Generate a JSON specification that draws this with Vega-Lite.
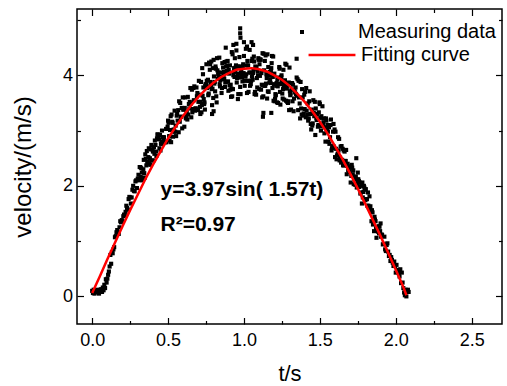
{
"$schema": "https://vega.github.io/schema/vega-lite/v6.json",
"autosize": {"type": "none"},
"padding": {"left": 77, "top": 9, "right": 5, "bottom": 62},
"width": 425,
"height": 315,
"background": "white",
"config": {
  "view": {"stroke": "black", "strokeWidth": 1.5},
  "font": "Liberation Sans",
  "axis": {"domain": false, "grid": false, "labelFont": "Liberation Sans", "labelFontSize": 18, "labelColor": "black", "titleFont": "Liberation Sans", "titleFontSize": 24, "titleFontWeight": "normal", "titleColor": "black", "tickColor": "black", "tickWidth": 1.2},
  "legend": {"labelFont": "Liberation Sans", "labelFontSize": 20, "labelColor": "black"}
},
"datasets": {
"meas": [
{"t":0,"v":0.1},{"t":0.005,"v":0.06},{"t":0.01,"v":0.12},{"t":0.015,"v":0.05},{"t":0.02,"v":0.09},{"t":0.025,"v":0.11},{"t":0.03,"v":0.07},{"t":0.035,"v":0.12},{"t":0.04,"v":0.1},{"t":0.045,"v":0.05},{"t":0.05,"v":0.08},{"t":0.055,"v":0.12},{"t":0.06,"v":0.13},{"t":0.065,"v":0.08},{"t":0.07,"v":0.16},{"t":0.075,"v":0.11},{"t":0.08,"v":0.21},{"t":0.085,"v":0.15},{"t":0.09,"v":0.31},{"t":0.095,"v":0.25},
{"t":0.1,"v":0.32},{"t":0.105,"v":0.39},{"t":0.11,"v":0.45},{"t":0.115,"v":0.54},{"t":0.12,"v":0.75},{"t":0.125,"v":0.59},{"t":0.13,"v":0.8},{"t":0.135,"v":0.78},{"t":0.14,"v":0.85},{"t":0.145,"v":0.89},{"t":0.15,"v":1.07},{"t":0.155,"v":1.09},{"t":0.16,"v":1.16},{"t":0.165,"v":1.2},{"t":0.17,"v":1.16},{"t":0.175,"v":1.13},{"t":0.18,"v":1.25},{"t":0.185,"v":1.36},{"t":0.19,"v":1.34},{"t":0.195,"v":1.38},{"t":0.2,"v":1.36},{"t":0.205,"v":1.45},{"t":0.21,"v":1.48},{"t":0.215,"v":1.46},{"t":0.22,"v":1.53},{"t":0.225,"v":1.64},{"t":0.23,"v":1.6},{"t":0.235,"v":1.57},{"t":0.24,"v":1.76},{"t":0.245,"v":1.8},{"t":0.25,"v":1.79},{"t":0.255,"v":1.68},{"t":0.26,"v":1.79},{"t":0.265,"v":1.93},{"t":0.27,"v":2.0},{"t":0.275,"v":1.91},{"t":0.28,"v":1.9},{"t":0.285,"v":2.08},{"t":0.29,"v":2.1},{"t":0.295,"v":1.96},{"t":0.3,"v":2.13},{"t":0.305,"v":2.2},
{"t":0.31,"v":2.1},{"t":0.313,"v":2.34},{"t":0.317,"v":2.34},{"t":0.32,"v":2.16},{"t":0.323,"v":2.32},{"t":0.327,"v":2.24},{"t":0.33,"v":2.14},{"t":0.333,"v":2.1},{"t":0.337,"v":2.3},{"t":0.34,"v":2.47},{"t":0.343,"v":2.23},{"t":0.347,"v":2.15},{"t":0.35,"v":2.57},{"t":0.353,"v":2.49},{"t":0.357,"v":2.37},{"t":0.36,"v":2.63},{"t":0.363,"v":2.43},{"t":0.367,"v":2.43},{"t":0.37,"v":2.52},{"t":0.373,"v":2.68},{"t":0.377,"v":2.4},{"t":0.38,"v":2.5},{"t":0.383,"v":2.38},{"t":0.387,"v":2.66},{"t":0.39,"v":2.74},{"t":0.393,"v":2.46},{"t":0.397,"v":2.66},{"t":0.4,"v":2.62},{"t":0.403,"v":2.46},{"t":0.407,"v":2.7},{"t":0.41,"v":2.58},{"t":0.413,"v":2.82},{"t":0.417,"v":2.74},{"t":0.42,"v":2.62},{"t":0.423,"v":2.54},{"t":0.427,"v":2.86},{"t":0.43,"v":2.93},{"t":0.433,"v":2.93},{"t":0.437,"v":2.89},{"t":0.44,"v":2.84},{"t":0.443,"v":2.68},{"t":0.447,"v":2.92},{"t":0.45,"v":2.64},{"t":0.453,"v":2.76},{"t":0.457,"v":2.8},{"t":0.46,"v":3.0},{"t":0.463,"v":2.76},{"t":0.467,"v":2.88},{"t":0.47,"v":2.84},{"t":0.473,"v":2.88},{"t":0.477,"v":2.8},{"t":0.48,"v":2.79},{"t":0.483,"v":2.79},{"t":0.487,"v":3.03},{"t":0.49,"v":2.79},{"t":0.493,"v":3.03},{"t":0.497,"v":3.07},{"t":0.5,"v":3.18},{"t":0.503,"v":3.14},{"t":0.507,"v":2.9},
{"t":0.51,"v":2.82},{"t":0.513,"v":3.01},{"t":0.517,"v":3.26},{"t":0.52,"v":2.79},{"t":0.523,"v":3.29},{"t":0.527,"v":3.16},{"t":0.53,"v":3.14},{"t":0.533,"v":2.89},{"t":0.537,"v":3.02},{"t":0.54,"v":2.98},{"t":0.543,"v":3.36},{"t":0.547,"v":2.98},{"t":0.55,"v":3.09},{"t":0.553,"v":2.9},{"t":0.557,"v":3.27},{"t":0.56,"v":3.3},{"t":0.563,"v":3.18},{"t":0.567,"v":3.37},{"t":0.57,"v":2.97},{"t":0.573,"v":3.53},{"t":0.577,"v":3.16},{"t":0.58,"v":3.5},{"t":0.583,"v":3.25},{"t":0.587,"v":3.25},{"t":0.59,"v":3.41},{"t":0.593,"v":3.04},{"t":0.597,"v":3.6},{"t":0.6,"v":3.38},{"t":0.603,"v":3.38},{"t":0.607,"v":3.07},{"t":0.61,"v":3.41},{"t":0.613,"v":3.6},{"t":0.617,"v":3.22},{"t":0.62,"v":3.26},{"t":0.623,"v":3.33},{"t":0.627,"v":3.2},{"t":0.63,"v":3.61},{"t":0.633,"v":3.29},{"t":0.637,"v":3.48},{"t":0.64,"v":3.4},{"t":0.643,"v":3.52},{"t":0.647,"v":3.77},{"t":0.65,"v":3.49},{"t":0.653,"v":3.24},{"t":0.657,"v":3.74},{"t":0.66,"v":3.33},{"t":0.663,"v":3.39},{"t":0.667,"v":3.77},{"t":0.67,"v":3.55},{"t":0.673,"v":3.8},{"t":0.677,"v":3.36},{"t":0.68,"v":3.4},{"t":0.683,"v":3.4},{"t":0.687,"v":3.78},{"t":0.69,"v":3.62},{"t":0.693,"v":3.68},{"t":0.697,"v":3.37},{"t":0.7,"v":3.52},{"t":0.703,"v":3.9},{"t":0.707,"v":3.65},
{"t":0.71,"v":3.43},{"t":0.7125,"v":3.3},{"t":0.715,"v":3.52},{"t":0.7175,"v":3.88},{"t":0.72,"v":3.33},{"t":0.7225,"v":3.46},{"t":0.725,"v":4.13},{"t":0.7275,"v":3.63},{"t":0.73,"v":4.02},{"t":0.7325,"v":3.78},{"t":0.735,"v":3.57},{"t":0.7375,"v":3.48},{"t":0.74,"v":3.51},{"t":0.7425,"v":3.38},{"t":0.745,"v":3.81},{"t":0.7475,"v":3.84},{"t":0.75,"v":3.83},{"t":0.7525,"v":4.2},{"t":0.755,"v":3.9},{"t":0.7575,"v":3.77},{"t":0.76,"v":3.79},{"t":0.7625,"v":3.92},{"t":0.765,"v":3.64},{"t":0.7675,"v":3.67},{"t":0.77,"v":4.23},{"t":0.7725,"v":3.8},{"t":0.775,"v":4.1},{"t":0.7775,"v":4.2},{"t":0.78,"v":3.88},{"t":0.7825,"v":3.82},{"t":0.785,"v":4.25},{"t":0.7875,"v":3.75},{"t":0.79,"v":3.46},{"t":0.7925,"v":3.76},{"t":0.795,"v":4.13},{"t":0.7975,"v":3.59},{"t":0.8,"v":4.28},{"t":0.8025,"v":3.98},{"t":0.805,"v":3.85},{"t":0.8075,"v":3.88},{"t":0.81,"v":3.71},{"t":0.8125,"v":4.16},{"t":0.815,"v":4.12},{"t":0.8175,"v":3.62},{"t":0.82,"v":3.51},{"t":0.8225,"v":4.31},{"t":0.825,"v":4.09},{"t":0.8275,"v":3.94},{"t":0.83,"v":4.02},{"t":0.8325,"v":4.05},{"t":0.835,"v":3.95},{"t":0.8375,"v":4.32},{"t":0.84,"v":3.84},{"t":0.8425,"v":3.8},{"t":0.845,"v":3.91},{"t":0.8475,"v":3.97},{"t":0.85,"v":4.05},{"t":0.8525,"v":3.68},{"t":0.855,"v":3.77},{"t":0.8575,"v":4.22},{"t":0.86,"v":3.93},{"t":0.8625,"v":4.14},{"t":0.865,"v":3.99},{"t":0.8675,"v":4.06},{"t":0.87,"v":3.94},{"t":0.8725,"v":4.24},{"t":0.875,"v":3.79},{"t":0.8775,"v":3.87},{"t":0.88,"v":3.88},{"t":0.8825,"v":4.16},{"t":0.885,"v":4.25},{"t":0.8875,"v":4.08},{"t":0.89,"v":4.17},{"t":0.8925,"v":4.26},{"t":0.895,"v":3.89},{"t":0.8975,"v":3.72},{"t":0.9,"v":4.1},{"t":0.9025,"v":4.03},{"t":0.905,"v":3.82},{"t":0.9075,"v":4.18},{"t":0.91,"v":3.74},{"t":0.9125,"v":3.83},{"t":0.915,"v":3.61},{"t":0.9175,"v":3.76},{"t":0.92,"v":4.42},{"t":0.9225,"v":3.62},{"t":0.925,"v":4.38},{"t":0.9275,"v":3.75},{"t":0.93,"v":4.0},{"t":0.9325,"v":4.06},{"t":0.935,"v":4.13},{"t":0.9375,"v":3.97},{"t":0.94,"v":4.31},{"t":0.9425,"v":4.07},{"t":0.945,"v":4.14},{"t":0.9475,"v":4.18},{"t":0.95,"v":4.45},{"t":0.9525,"v":3.87},{"t":0.955,"v":3.95},{"t":0.9575,"v":4.02},{"t":0.96,"v":4.16},{"t":0.9625,"v":3.66},{"t":0.965,"v":3.96},{"t":0.9675,"v":4.03},{"t":0.97,"v":4.33},{"t":0.9725,"v":4.16},{"t":0.975,"v":3.79},{"t":0.9775,"v":3.66},{"t":0.98,"v":4.04},{"t":0.9825,"v":4.1},{"t":0.985,"v":4.01},{"t":0.9875,"v":3.97},{"t":0.99,"v":3.89},{"t":0.9925,"v":4.17},{"t":0.995,"v":4.2},{"t":0.9975,"v":4.04},{"t":1.0,"v":4.35},{"t":1.0025,"v":3.9},{"t":1.005,"v":3.81},{"t":1.0075,"v":3.98},{"t":1.01,"v":3.98},{"t":1.0125,"v":4.48},{"t":1.015,"v":4.02},{"t":1.0175,"v":4.18},{"t":1.02,"v":3.68},{"t":1.0225,"v":4.26},{"t":1.025,"v":3.9},{"t":1.0275,"v":4.18},{"t":1.03,"v":3.7},{"t":1.0325,"v":3.9},{"t":1.035,"v":4.05},{"t":1.0375,"v":4.46},{"t":1.04,"v":3.81},{"t":1.0425,"v":4.05},{"t":1.045,"v":3.84},{"t":1.0475,"v":3.9},{"t":1.05,"v":4.26},{"t":1.0525,"v":3.98},{"t":1.055,"v":4.3},{"t":1.0575,"v":3.92},{"t":1.06,"v":4.04},{"t":1.0625,"v":4.1},{"t":1.065,"v":4.34},{"t":1.0675,"v":4.25},{"t":1.07,"v":3.66},{"t":1.0725,"v":3.7},{"t":1.075,"v":4.16},{"t":1.0775,"v":4.12},{"t":1.08,"v":3.65},{"t":1.0825,"v":4.15},{"t":1.085,"v":3.95},{"t":1.0875,"v":3.78},{"t":1.09,"v":4.07},{"t":1.0925,"v":4.0},{"t":1.095,"v":4.31},{"t":1.0975,"v":4.28},{"t":1.1,"v":3.75},{"t":1.1025,"v":4.2},{"t":1.105,"v":3.99},{"t":1.1075,"v":4.29},{"t":1.11,"v":4.28},{"t":1.1125,"v":3.74},{"t":1.115,"v":4.04},{"t":1.1175,"v":3.83},{"t":1.12,"v":3.6},{"t":1.1225,"v":4.4},{"t":1.125,"v":3.82},{"t":1.1275,"v":3.62},{"t":1.13,"v":4.39},{"t":1.1325,"v":4.09},{"t":1.135,"v":3.81},{"t":1.1375,"v":4.26},{"t":1.14,"v":3.81},{"t":1.1425,"v":4.36},{"t":1.145,"v":3.85},{"t":1.1475,"v":4.02},{"t":1.15,"v":3.95},{"t":1.1525,"v":3.58},{"t":1.155,"v":4.38},{"t":1.1575,"v":3.71},{"t":1.16,"v":4.15},{"t":1.1625,"v":3.7},{"t":1.165,"v":4.0},{"t":1.1675,"v":3.87},{"t":1.17,"v":4.06},{"t":1.1725,"v":3.93},{"t":1.175,"v":3.86},{"t":1.1775,"v":4.08},{"t":1.18,"v":4.13},{"t":1.1825,"v":4.22},{"t":1.185,"v":4.35},{"t":1.1875,"v":3.77},{"t":1.19,"v":3.97},{"t":1.1925,"v":4.34},{"t":1.195,"v":3.54},{"t":1.1975,"v":3.84},{"t":1.2,"v":4.03},{"t":1.2025,"v":3.53},{"t":1.205,"v":3.58},{"t":1.2075,"v":3.66},{"t":1.21,"v":3.64},{"t":1.2125,"v":3.81},{"t":1.215,"v":3.86},{"t":1.2175,"v":3.51},{"t":1.22,"v":3.93},{"t":1.2225,"v":3.8},{"t":1.225,"v":3.5},{"t":1.2275,"v":3.96},{"t":1.23,"v":3.85},{"t":1.2325,"v":4.15},{"t":1.235,"v":4.12},{"t":1.2375,"v":3.7},{"t":1.24,"v":3.47},{"t":1.2425,"v":3.84},{"t":1.245,"v":3.97},{"t":1.2475,"v":4.0},{"t":1.25,"v":3.88},{"t":1.2525,"v":3.67},{"t":1.255,"v":3.58},{"t":1.2575,"v":3.75},{"t":1.26,"v":4.1},{"t":1.2625,"v":3.8},{"t":1.265,"v":3.56},{"t":1.2675,"v":3.83},{"t":1.27,"v":3.91},{"t":1.2725,"v":4.21},{"t":1.275,"v":3.84},{"t":1.2775,"v":3.54},{"t":1.28,"v":4.19},{"t":1.2825,"v":3.76},{"t":1.285,"v":3.52},{"t":1.2875,"v":3.82},{"t":1.29,"v":3.5},{"t":1.2925,"v":3.53},{"t":1.295,"v":3.87},{"t":1.2975,"v":3.37},{"t":1.3,"v":4.14},{"t":1.3025,"v":3.71},{"t":1.305,"v":3.64},{"t":1.3075,"v":3.67},
{"t":1.31,"v":3.38},{"t":1.313,"v":3.74},{"t":1.317,"v":3.86},{"t":1.32,"v":3.53},{"t":1.323,"v":3.83},{"t":1.327,"v":3.35},{"t":1.33,"v":3.58},{"t":1.333,"v":3.74},{"t":1.337,"v":3.69},{"t":1.34,"v":3.78},{"t":1.343,"v":3.66},{"t":1.347,"v":3.96},{"t":1.35,"v":3.63},{"t":1.353,"v":3.93},{"t":1.357,"v":3.37},{"t":1.36,"v":3.9},{"t":1.363,"v":3.6},{"t":1.367,"v":3.49},{"t":1.37,"v":3.22},{"t":1.373,"v":3.88},{"t":1.377,"v":3.4},{"t":1.38,"v":3.29},{"t":1.383,"v":3.75},{"t":1.387,"v":3.6},{"t":1.39,"v":3.27},{"t":1.393,"v":3.31},{"t":1.397,"v":3.65},{"t":1.4,"v":3.39},{"t":1.403,"v":3.7},{"t":1.407,"v":3.24},{"t":1.41,"v":3.77},{"t":1.413,"v":3.36},{"t":1.417,"v":3.29},{"t":1.42,"v":3.49},{"t":1.423,"v":3.18},{"t":1.427,"v":3.22},{"t":1.43,"v":3.53},{"t":1.433,"v":3.71},{"t":1.437,"v":3.3},{"t":1.44,"v":3.12},{"t":1.443,"v":3.02},{"t":1.447,"v":3.38},{"t":1.45,"v":3.09},{"t":1.453,"v":3.13},{"t":1.457,"v":3.55},{"t":1.46,"v":3.32},{"t":1.463,"v":3.26},{"t":1.467,"v":3.52},{"t":1.47,"v":2.92},{"t":1.473,"v":3.4},{"t":1.477,"v":3.22},{"t":1.48,"v":3.19},{"t":1.483,"v":3.3},{"t":1.487,"v":3.07},{"t":1.49,"v":3.1},{"t":1.493,"v":3.33},{"t":1.497,"v":3.51},{"t":1.5,"v":3.48},{"t":1.503,"v":3.23},{"t":1.507,"v":3.0},{"t":1.51,"v":3.26},{"t":1.513,"v":3.08},{"t":1.517,"v":3.44},{"t":1.52,"v":3.1},{"t":1.523,"v":3.15},{"t":1.527,"v":3.22},{"t":1.53,"v":2.95},{"t":1.533,"v":3.06},{"t":1.537,"v":2.8},{"t":1.54,"v":3.22},{"t":1.543,"v":3.18},{"t":1.547,"v":3.02},{"t":1.55,"v":3.1},{"t":1.553,"v":2.98},{"t":1.557,"v":2.8},{"t":1.56,"v":3.06},{"t":1.563,"v":2.76},{"t":1.567,"v":2.88},{"t":1.57,"v":3.1},{"t":1.573,"v":3.2},{"t":1.577,"v":2.64},{"t":1.58,"v":2.68},{"t":1.583,"v":2.72},{"t":1.587,"v":2.98},{"t":1.59,"v":3.12},{"t":1.593,"v":2.71},{"t":1.597,"v":3.02},{"t":1.6,"v":2.52},{"t":1.603,"v":2.98},{"t":1.607,"v":2.67},
{"t":1.61,"v":2.48},{"t":1.613,"v":2.55},{"t":1.617,"v":2.58},{"t":1.62,"v":2.88},{"t":1.623,"v":2.64},{"t":1.627,"v":2.85},{"t":1.63,"v":2.46},{"t":1.633,"v":2.51},{"t":1.637,"v":2.71},{"t":1.64,"v":2.42},{"t":1.643,"v":2.72},{"t":1.647,"v":2.47},{"t":1.65,"v":2.67},{"t":1.653,"v":2.37},{"t":1.657,"v":2.64},{"t":1.66,"v":2.37},{"t":1.663,"v":2.62},{"t":1.667,"v":2.45},{"t":1.67,"v":2.45},{"t":1.673,"v":2.65},{"t":1.677,"v":2.21},{"t":1.68,"v":2.36},{"t":1.683,"v":2.4},{"t":1.687,"v":2.28},{"t":1.69,"v":2.28},{"t":1.693,"v":2.35},{"t":1.697,"v":2.25},{"t":1.7,"v":2.33},{"t":1.703,"v":2.06},{"t":1.707,"v":2.18},{"t":1.71,"v":2.38},{"t":1.713,"v":2.33},{"t":1.717,"v":2.21},{"t":1.72,"v":2.28},{"t":1.723,"v":2.03},{"t":1.727,"v":2.13},{"t":1.73,"v":2.14},{"t":1.733,"v":2.02},{"t":1.737,"v":2.17},{"t":1.74,"v":2.12},{"t":1.743,"v":1.97},{"t":1.747,"v":2.05},{"t":1.75,"v":2.24},{"t":1.753,"v":2.12},{"t":1.757,"v":2.09},{"t":1.76,"v":1.98},{"t":1.763,"v":2.06},{"t":1.767,"v":1.86},{"t":1.77,"v":1.88},{"t":1.773,"v":2.0},{"t":1.777,"v":1.68},{"t":1.78,"v":2.06},{"t":1.783,"v":1.79},{"t":1.787,"v":1.89},{"t":1.79,"v":2.0},{"t":1.793,"v":1.97},{"t":1.797,"v":1.93},{"t":1.8,"v":1.74},{"t":1.803,"v":1.94},{"t":1.807,"v":1.76},{"t":1.81,"v":1.76},{"t":1.813,"v":1.64},{"t":1.817,"v":1.88},{"t":1.82,"v":1.64},{"t":1.823,"v":1.61},{"t":1.827,"v":1.81},{"t":1.83,"v":1.58},{"t":1.833,"v":1.63},{"t":1.837,"v":1.55},{"t":1.84,"v":1.36},{"t":1.843,"v":1.56},{"t":1.847,"v":1.52},{"t":1.85,"v":1.3},{"t":1.853,"v":1.38},{"t":1.857,"v":1.18},{"t":1.86,"v":1.44},{"t":1.863,"v":1.39},{"t":1.867,"v":1.36},{"t":1.87,"v":1.23},{"t":1.873,"v":1.06},{"t":1.877,"v":1.2},{"t":1.88,"v":1.24},{"t":1.883,"v":1.17},{"t":1.887,"v":1.27},{"t":1.89,"v":1.14},{"t":1.893,"v":1.26},{"t":1.897,"v":1.18},{"t":1.9,"v":1.32},{"t":1.903,"v":1.08},{"t":1.907,"v":1.12},
{"t":1.91,"v":1.11},{"t":1.915,"v":0.94},{"t":1.92,"v":0.95},{"t":1.925,"v":1.08},{"t":1.93,"v":0.85},{"t":1.935,"v":0.82},{"t":1.94,"v":0.93},{"t":1.945,"v":0.96},{"t":1.95,"v":0.81},{"t":1.955,"v":0.73},{"t":1.96,"v":0.75},{"t":1.965,"v":0.64},{"t":1.97,"v":0.71},{"t":1.975,"v":0.66},{"t":1.98,"v":0.61},{"t":1.985,"v":0.55},{"t":1.99,"v":0.63},{"t":1.995,"v":0.55},{"t":2.0,"v":0.43},{"t":2.005,"v":0.57},{"t":2.01,"v":0.44},{"t":2.015,"v":0.48},{"t":2.02,"v":0.42},{"t":2.025,"v":0.36},{"t":2.03,"v":0.49},{"t":2.035,"v":0.24},{"t":2.04,"v":0.43},{"t":2.045,"v":0.25},{"t":2.05,"v":0.15},{"t":2.055,"v":0.07},{"t":2.06,"v":0.02},{"t":2.065,"v":0.12},{"t":2.07,"v":0.0},{"t":2.075,"v":0.1},{"t":2.08,"v":0.12},{"t":2.085,"v":0.08},
{"t":0.975,"v":4.85},{"t":0.975,"v":4.76},{"t":0.977,"v":4.68},{"t":0.96,"v":3.57},{"t":1.125,"v":3.25},{"t":1.128,"v":3.32},{"t":1.18,"v":3.32},{"t":1.347,"v":4.3},{"t":1.74,"v":2.5},{"t":0.88,"v":4.5},{"t":1.05,"v":4.6},{"t":1.06,"v":4.55},{"t":0.79,"v":3.3},{"t":0.8,"v":3.35},{"t":0.93,"v":4.55},{"t":1.0,"v":4.6},{"t":1.02,"v":4.52},{"t":0.95,"v":4.57}
],
"fit": [
{"t":0,"v":0.06},{"t":0.05,"v":0.36},{"t":0.1,"v":0.67},{"t":0.15,"v":0.97},{"t":0.2,"v":1.27},{"t":0.25,"v":1.56},{"t":0.3,"v":1.84},{"t":0.35,"v":2.12},{"t":0.4,"v":2.38},{"t":0.45,"v":2.62},{"t":0.5,"v":2.86},{"t":0.55,"v":3.07},{"t":0.6,"v":3.27},{"t":0.65,"v":3.45},{"t":0.7,"v":3.61},{"t":0.75,"v":3.75},{"t":0.8,"v":3.87},{"t":0.85,"v":3.97},{"t":0.9,"v":4.04},{"t":0.95,"v":4.1},{"t":1.0,"v":4.12},{"t":1.05,"v":4.13},{"t":1.1,"v":4.11},{"t":1.15,"v":4.07},{"t":1.2,"v":4.0},{"t":1.25,"v":3.92},{"t":1.3,"v":3.81},{"t":1.35,"v":3.67},{"t":1.4,"v":3.52},{"t":1.45,"v":3.35},{"t":1.5,"v":3.16},{"t":1.55,"v":2.95},{"t":1.6,"v":2.72},{"t":1.65,"v":2.48},{"t":1.7,"v":2.22},{"t":1.75,"v":1.95},{"t":1.8,"v":1.67},{"t":1.85,"v":1.38},{"t":1.9,"v":1.09},{"t":1.95,"v":0.79},{"t":2.0,"v":0.48},{"t":2.05,"v":0.17},{"t":2.07,"v":0.02}
],
"ann": [
{"t":0.45,"v":1.81,"label":"y=3.97sin( 1.57t)"},
{"t":0.45,"v":1.18,"label":"R²=0.97"}
]
},
"layer": [
{
"data": {"name": "meas"},
"mark": {"type": "point", "shape": "square", "filled": true, "size": 17, "opacity": 1, "strokeWidth": 0},
"encoding": {
"x": {"field": "t", "type": "quantitative", "scale": {"domain": [-0.1, 2.7], "nice": false, "zero": false},
  "axis": {"orient": "bottom", "title": "t/s", "titleFontSize": 22, "values": [0, 0.25, 0.5, 0.75, 1, 1.25, 1.5, 1.75, 2, 2.25, 2.5],
    "labelExpr": "datum.value % 0.5 === 0 ? format(datum.value, '.1f') : ''",
    "tickSize": {"condition": {"test": "datum.value % 0.5 === 0", "value": -6.5}, "value": -3.5},
    "labelPadding": 14, "titlePadding": 14}},
"y": {"field": "v", "type": "quantitative", "scale": {"domain": [-0.5, 5.2], "nice": false, "zero": false},
  "axis": {"orient": "left", "title": "velocity/(m/s)", "values": [0, 1, 2, 3, 4, 5],
    "labelExpr": "datum.value % 2 === 0 ? datum.label : ''",
    "tickSize": {"condition": {"test": "datum.value % 2 === 0", "value": -6.5}, "value": -3.5},
    "labelPadding": 11, "titlePadding": 27}},
"color": {"datum": "Measuring data", "type": "nominal",
  "scale": {"domain": ["Measuring data"], "range": ["black"]},
  "legend": {"orient": "none", "legendX": 215, "legendY": 13, "title": null, "padding": 0,
    "labelOffset": 46, "symbolSize": 16, "symbolType": "square", "symbolStrokeWidth": 0, "symbolOpacity": 1}}
}
},
{
"data": {"name": "fit"},
"mark": {"type": "line", "strokeWidth": 2.5},
"encoding": {
"x": {"field": "t", "type": "quantitative", "scale": {"domain": [-0.1, 2.7], "nice": false, "zero": false},
  "axis": {"orient": "top", "title": null, "labels": false, "values": [0, 0.25, 0.5, 0.75, 1, 1.25, 1.5, 1.75, 2, 2.25, 2.5],
    "tickSize": {"condition": {"test": "datum.value % 0.5 === 0", "value": -6.5}, "value": -3.5}}},
"y": {"field": "v", "type": "quantitative", "scale": {"domain": [-0.5, 5.2], "nice": false, "zero": false},
  "axis": {"orient": "right", "title": null, "labels": false, "values": [0, 1, 2, 3, 4, 5],
    "tickSize": {"condition": {"test": "datum.value % 2 === 0", "value": -6.5}, "value": -3.5}}},
"stroke": {"datum": "Fitting curve", "type": "nominal",
  "scale": {"domain": ["Fitting curve"], "range": ["red"]},
  "legend": {"orient": "none", "legendX": 230, "legendY": 21, "title": null, "padding": 0,
    "labelOffset": 4, "symbolSize": 2200, "symbolType": "stroke", "symbolStrokeWidth": 2.5, "symbolOpacity": 1}}
}
},
{
"data": {"name": "ann"},
"mark": {"type": "text", "align": "left", "baseline": "alphabetic", "font": "Liberation Sans", "fontWeight": "bold", "fontSize": 21, "color": "black"},
"encoding": {
"x": {"field": "t", "type": "quantitative", "axis": null},
"y": {"field": "v", "type": "quantitative", "axis": null},
"text": {"field": "label"}
}
}
],
"resolve": {"axis": {"x": "independent", "y": "independent"}}
}
